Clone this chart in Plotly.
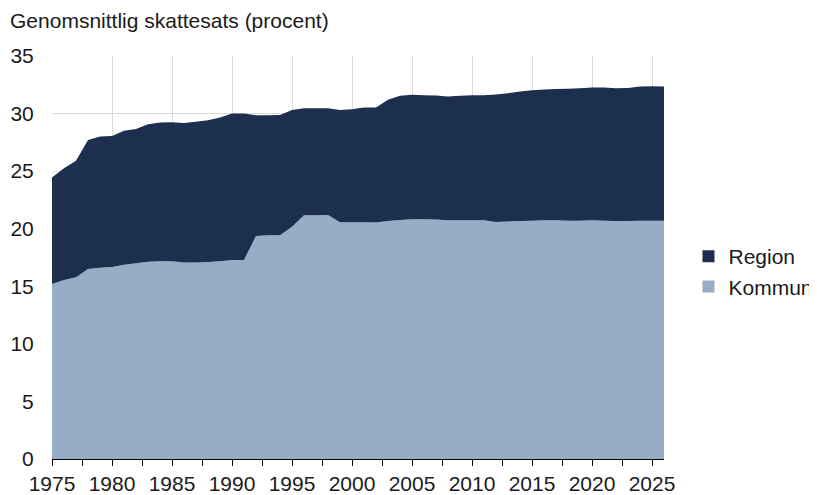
import plotly.graph_objects as go

years = list(range(1975, 2027))
kommun = [15.2, 15.55, 15.78, 16.5, 16.62, 16.68, 16.88, 17.0, 17.14, 17.17,
          17.17, 17.06, 17.06, 17.1, 17.17, 17.29, 17.29, 19.37, 19.43, 19.43,
          20.18, 21.17, 21.17, 21.2, 20.56, 20.56, 20.56, 20.53, 20.68, 20.76,
          20.82, 20.82, 20.79, 20.73, 20.73, 20.73, 20.73, 20.59, 20.62, 20.68,
          20.7, 20.73, 20.73, 20.7, 20.7, 20.73, 20.7, 20.68, 20.68, 20.7,
          20.7, 20.7]
region = [9.25, 9.7, 10.12, 11.2, 11.38, 11.38, 11.62, 11.67, 11.94, 12.05,
          12.08, 12.13, 12.24, 12.32, 12.48, 12.71, 12.71, 10.49, 10.43, 10.45,
          10.14, 9.3, 9.3, 9.27, 9.74, 9.82, 9.96, 9.99, 10.51, 10.78,
          10.81, 10.78, 10.78, 10.75, 10.81, 10.87, 10.87, 11.06, 11.15, 11.24,
          11.33, 11.37, 11.4, 11.46, 11.49, 11.54, 11.57, 11.51, 11.54, 11.66,
          11.68, 11.66]

title_text = "Genomsnittlig skattesats (procent)"
names = ["Kommun", "Region"]
colors = ["#97acc5", "#1c2f4f"]
FONT = "Liberation Sans, Arial, sans-serif"

fig = go.Figure()
for name, vals, col in zip(names, [kommun, region], colors):
    fig.add_trace(go.Scatter(
        x=years, y=vals, name=name, stackgroup="one", mode="none",
        fillcolor=col, showlegend=False, hoverinfo="x+y+name",
    ))
# legend entries
for name, col in zip(names, colors):
    fig.add_trace(go.Scatter(
        x=[None], y=[None], name=name, mode="markers",
        marker=dict(symbol="square", size=13, color=col),
        showlegend=True,
    ))

fig.update_layout(
    width=817, height=495,
    margin=dict(l=44, r=161, t=48, b=44, autoexpand=False),
    paper_bgcolor="white", plot_bgcolor="white",
    font=dict(family=FONT, size=21, color="#1a1a1a"),
    title=dict(text=title_text, x=0.0025, xanchor="left", xref="container",
               y=0.975, yanchor="middle", yref="container",
               font=dict(family=FONT, size=21, color="#1a1a1a")),
    legend=dict(x=1.04, xanchor="left", y=0.465, yanchor="middle",
                traceorder="reversed", font=dict(family=FONT, size=21),
                itemsizing="constant", tracegroupgap=0,
                bgcolor="rgba(0,0,0,0)"),
    showlegend=True,
)
fig.update_xaxes(
    range=[1975, 2026], dtick=5, tick0=1975,
    showgrid=True, gridcolor="#d9d9d9", gridwidth=1,
    ticks="outside", ticklen=6, tickcolor="#000", tickwidth=1,
    minor=dict(dtick=2.5, tick0=1975, ticks="outside", ticklen=6,
               tickcolor="#000", showgrid=False),
    showline=True, linecolor="#000", linewidth=1,
    zeroline=False, automargin=False,
    tickfont=dict(family=FONT, size=21),
)
fig.update_yaxes(
    range=[0, 35], dtick=5,
    showgrid=True, gridcolor="#d9d9d9", gridwidth=1,
    ticks="outside", ticklen=13, tickcolor="rgba(0,0,0,0)",
    showline=False, zeroline=False, automargin=False,
    tickfont=dict(family=FONT, size=21),
)

fig.write_html("out.html")
